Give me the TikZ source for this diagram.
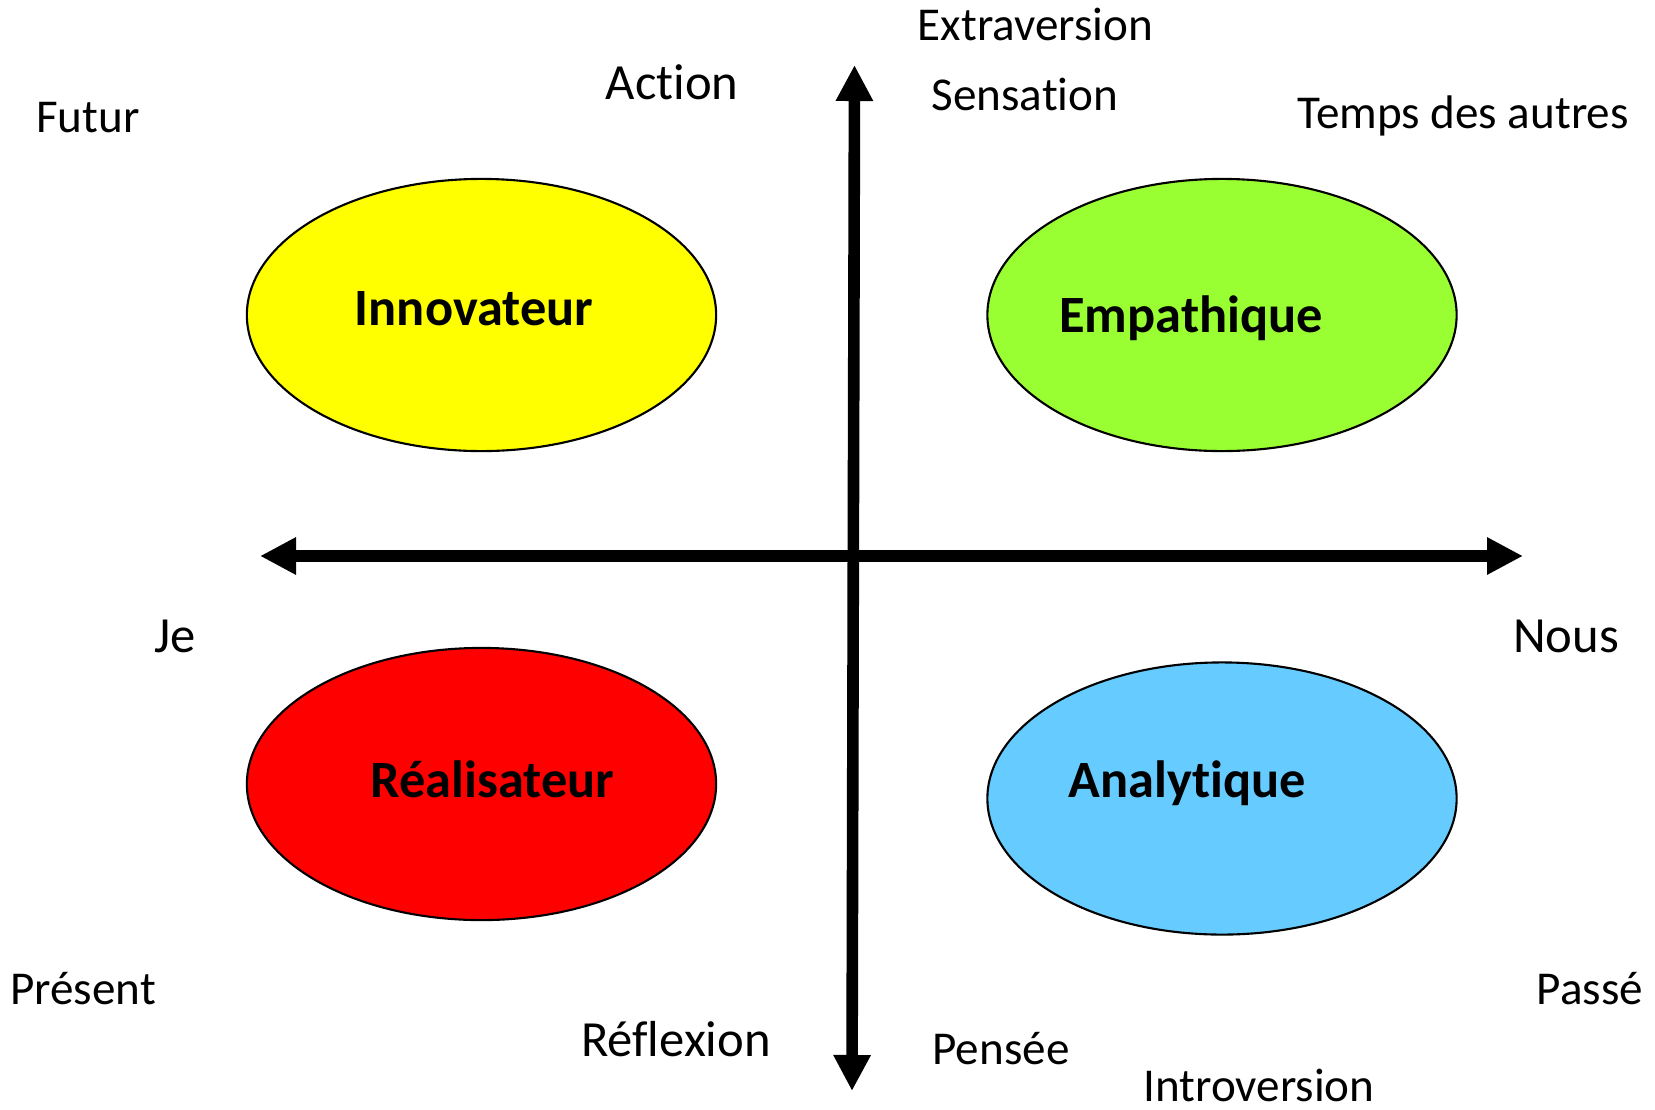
\documentclass[tikz,border=0pt]{standalone}
\usepackage{fontspec}
\setmainfont{Carlito}[RawFeature={-liga;-clig;-calt;-dlig}]
\usetikzlibrary{arrows.meta,shapes.geometric}

\definecolor{jaune}{HTML}{FFFF00}
\definecolor{vert}{HTML}{99FF33}
\definecolor{rouge}{HTML}{FF0000}
\definecolor{bleu}{HTML}{66CCFF}

\tikzset{
	quadrant/.style = {ellipse, draw, line width=0.6pt, inner sep=0, minimum width=4.69cm, minimum height=2.72cm},
	type/.style = {anchor=base, inner sep=0, font=\fontsize{14.9}{18}\selectfont\bfseries},
	pole/.style = {anchor=base, inner sep=0, font=\fontsize{13.4}{16}\selectfont},
	bigpole/.style = {anchor=base, inner sep=0, font=\fontsize{14.4}{17}\selectfont},
	axis/.style = {line width=3.3pt, {Triangle[length=0.36cm,width=0.35cm]}-{Triangle[length=0.36cm,width=0.35cm]}}
}

\begin{document}
\begin{tikzpicture}[x=0.01cm, y=-0.01cm]
%pixel grid of the drawing: 1655 x 1109
\useasboundingbox (0,0) rectangle (1655,1109);

\foreach \n/\x/\y/\c in {innov/481.5/315/jaune, empat/1222/315/vert, real/481.5/784/rouge, analy/1222/798.5/bleu}
	\node [quadrant, fill=\c] (\n) at (\x,\y) {};

\node [type] (tinnov) at (474,325) {Innovateur};
\node [type] (tempat) at (1191,332) {Empathique};
\node [type] (treal) at (492.5,797) {Réalisateur};
\node [type] (tanaly) at (1187,797) {Analytique};

%axes
\coordinate (left) at (260,556);
\coordinate (right) at (1523,556);
\coordinate (top) at (854.5,65);
\coordinate (bottom) at (852,1091);
\draw [axis] (left) -- (right);
\draw [axis] (bottom) -- (top);

\foreach \n/\x/\y/\t in {futur/88/132/Futur, extra/1035.5/40.7/Extraversion, sens/1025/110/Sensation, autres/1463/128/Temps des autres, present/83/1004/Présent, passe/1590/1004/Passé, pensee/1001/1064/Pensée, intro/1259/1101/Introversion}
	\node [pole] (\n) at (\x,\y) {\t};
\foreach \n/\x/\y/\t in {action/672/99/Action, je/175/652/Je, nous/1566/652/Nous, reflex/676/1056/Réflexion}
	\node [bigpole] (\n) at (\x,\y) {\t};

\end{tikzpicture}
\end{document}
